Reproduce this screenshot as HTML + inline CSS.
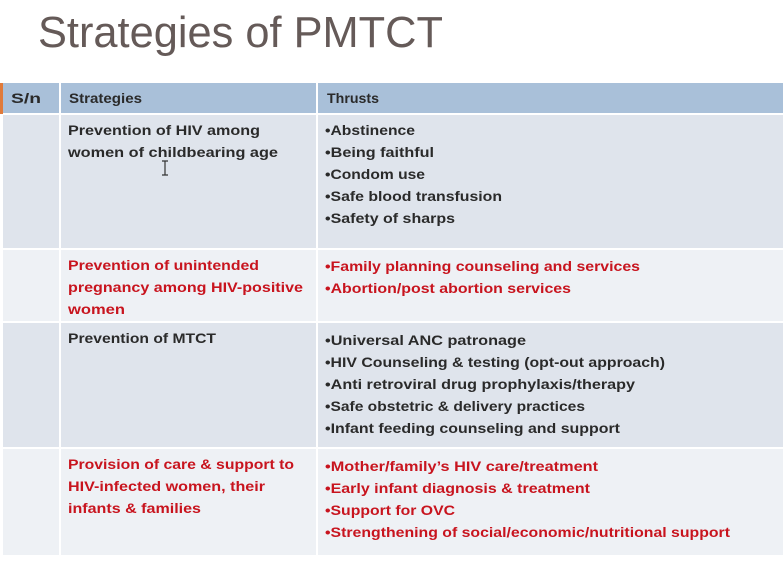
<!DOCTYPE html>
<html><head><meta charset="utf-8"><style>
html,body{margin:0;padding:0;background:#fff;width:783px;height:566px;overflow:hidden}
svg{display:block}
text{font-family:"Liberation Sans",sans-serif;font-weight:bold;font-size:13.5px}
.k{fill:#2a2a2a}.r{fill:#c8141e}
</style></head><body>
<svg width="783" height="566">
<text x="38" y="47" textLength="405" lengthAdjust="spacingAndGlyphs" style="font-weight:normal;font-size:44px;fill:#655a58">Strategies of PMTCT</text>
<g>
<rect x="3" y="83" width="780" height="31" fill="#a9c0d9"/>
<rect x="0" y="83" width="3" height="31" fill="#e07a3a"/>
<rect x="3" y="114" width="780" height="135" fill="#dfe4ec"/>
<rect x="3" y="249" width="780" height="73" fill="#eef1f5"/>
<rect x="3" y="322" width="780" height="126" fill="#dfe4ec"/>
<rect x="3" y="448" width="780" height="107" fill="#eef1f5"/>
<g stroke="#fff" stroke-width="2">
<line x1="60" y1="83" x2="60" y2="555"/><line x1="317" y1="83" x2="317" y2="555"/>
<line x1="3" y1="114" x2="783" y2="114"/><line x1="3" y1="249" x2="783" y2="249"/>
<line x1="3" y1="322" x2="783" y2="322"/><line x1="3" y1="448" x2="783" y2="448"/>
</g>
<text class="k" x="11" y="103" textLength="30" lengthAdjust="spacingAndGlyphs">S/n</text>
<text class="k" x="69" y="103" textLength="73" lengthAdjust="spacingAndGlyphs">Strategies</text>
<text class="k" x="327" y="103" textLength="52" lengthAdjust="spacingAndGlyphs">Thrusts</text>

<text class="k" x="68" y="135" textLength="192" lengthAdjust="spacingAndGlyphs">Prevention of HIV among</text>
<text class="k" x="68" y="157" textLength="210" lengthAdjust="spacingAndGlyphs">women of childbearing age</text>
<text class="k" x="325" y="135" textLength="90" lengthAdjust="spacingAndGlyphs">•Abstinence</text>
<text class="k" x="325" y="157" textLength="109" lengthAdjust="spacingAndGlyphs">•Being faithful</text>
<text class="k" x="325" y="179" textLength="100" lengthAdjust="spacingAndGlyphs">•Condom use</text>
<text class="k" x="325" y="201" textLength="177" lengthAdjust="spacingAndGlyphs">•Safe blood transfusion</text>
<text class="k" x="325" y="223" textLength="130" lengthAdjust="spacingAndGlyphs">•Safety of sharps</text>

<text class="r" x="68" y="270" textLength="191" lengthAdjust="spacingAndGlyphs">Prevention of unintended</text>
<text class="r" x="68" y="292" textLength="235" lengthAdjust="spacingAndGlyphs">pregnancy among HIV-positive</text>
<text class="r" x="68" y="314" textLength="57" lengthAdjust="spacingAndGlyphs">women</text>
<text class="r" x="325" y="271" textLength="315" lengthAdjust="spacingAndGlyphs">•Family planning counseling and services</text>
<text class="r" x="325" y="293" textLength="246" lengthAdjust="spacingAndGlyphs">•Abortion/post abortion services</text>

<text class="k" x="68" y="343" textLength="148" lengthAdjust="spacingAndGlyphs">Prevention of MTCT</text>
<text class="k" x="325" y="345" textLength="201" lengthAdjust="spacingAndGlyphs">•Universal ANC patronage</text>
<text class="k" x="325" y="367" textLength="340" lengthAdjust="spacingAndGlyphs">•HIV Counseling &amp; testing (opt-out approach)</text>
<text class="k" x="325" y="389" textLength="310" lengthAdjust="spacingAndGlyphs">•Anti retroviral drug prophylaxis/therapy</text>
<text class="k" x="325" y="411" textLength="260" lengthAdjust="spacingAndGlyphs">•Safe obstetric &amp; delivery practices</text>
<text class="k" x="325" y="433" textLength="295" lengthAdjust="spacingAndGlyphs">•Infant feeding counseling and support</text>

<text class="r" x="68" y="469" textLength="226" lengthAdjust="spacingAndGlyphs">Provision of care &amp; support to</text>
<text class="r" x="68" y="491" textLength="197" lengthAdjust="spacingAndGlyphs">HIV-infected women, their</text>
<text class="r" x="68" y="513" textLength="133" lengthAdjust="spacingAndGlyphs">infants &amp; families</text>
<text class="r" x="325" y="471" textLength="273" lengthAdjust="spacingAndGlyphs">•Mother/family’s HIV care/treatment</text>
<text class="r" x="325" y="493" textLength="265" lengthAdjust="spacingAndGlyphs">•Early infant diagnosis &amp; treatment</text>
<text class="r" x="325" y="515" textLength="130" lengthAdjust="spacingAndGlyphs">•Support for OVC</text>
<text class="r" x="325" y="537" textLength="405" lengthAdjust="spacingAndGlyphs">•Strengthening of social/economic/nutritional support</text>
</g>
<path d="M162 161h6M165 161v14M162 175h6" stroke="#333" stroke-width="1.2" fill="none"/>
</svg>
</body></html>
